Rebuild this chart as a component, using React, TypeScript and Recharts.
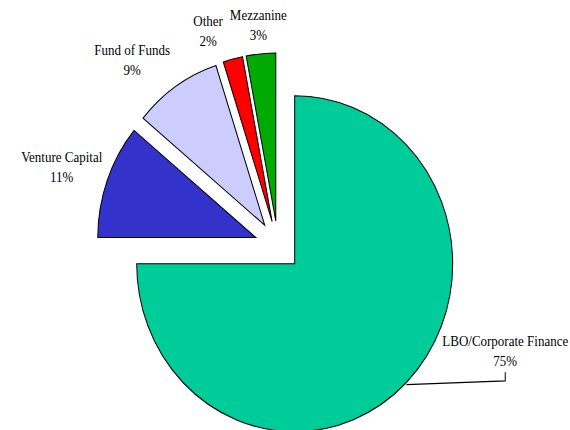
import React from 'react';
import { PieChart, Pie, Cell } from 'recharts';

const SECTORS = ['LBO/Corporate Finance', 'Venture Capital', 'Fund of Funds', 'Other', 'Mezzanine'];
const SHARES = [75, 11, 9, 2, 3];
const COLORS = [
  '#00CC99', // LBO
  '#3333CC', // Venture
  '#CCCCFF', // Fund of Funds
  '#FF0000', // Other
  '#00AA00', // Mezzanine
];

// where each label sits: distance past the rim, angle nudge in degrees
const LABEL_POS = [
  { r: 68, nudge: 23.7, leader: true },
  { r: 47, nudge: 1, leader: false },
  { r: 46, nudge: 6.3, leader: false },
  { r: 32, nudge: 5.3, leader: false },
  { r: 27, nudge: 0, leader: false },
];

const CX = 278;
const CY = 246;
const RADIUS = 158;
const EXPLODE = 23.6;
const RAD = Math.PI / 180;
const FONT = '"Liberation Serif", "Times New Roman", serif';

const data = SECTORS.map((name, i) => ({ name, value: SHARES[i] }));
const total = SHARES.reduce((a, b) => a + b, 0);
const midAngles = SHARES.map((v, i) => {
  const before = SHARES.slice(0, i).reduce((a, b) => a + b, 0);
  return 90 - (360 * (before + v / 2)) / total;
});

const makeLabel = (slice: number) => (props: any) => {
  if (props.index !== slice) return null;
  const { cx, cy, midAngle, outerRadius } = props;
  const pos = LABEL_POS[slice];
  const a = (midAngle + pos.nudge) * RAD;
  const r = outerRadius + pos.r;
  const x = cx + r * Math.cos(a);
  const y = cy - r * Math.sin(a);
  const ax = cx + outerRadius * Math.cos(midAngle * RAD);
  const ay = cy - outerRadius * Math.sin(midAngle * RAD);

  return (
    <g>
      {pos.leader && (
        <path d={`M${ax},${ay + 2}L${x},${ay - 1.5}V${y + 20}`} stroke="#000" strokeWidth={1} fill="none" />
      )}
      <text textAnchor="middle" fontSize={13} fill="#000" style={{ fontFamily: FONT }}>
        <tspan x={x} y={y - 9.4} dominantBaseline="central">{SECTORS[slice]}</tspan>
        <tspan x={x} y={y + 9.4} dominantBaseline="central">{`${SHARES[slice]}%`}</tspan>
      </text>
    </g>
  );
};

export default function App() {
  return (
    <div
      style={{
        position: 'absolute',
        left: 0,
        top: 0,
        width: 570,
        height: 430,
        background: '#fff',
        fontFamily: FONT,
        transform: 'scaleY(1.063)',
        transformOrigin: `${CX}px ${CY}px`,
      }}
    >
      <PieChart width={570} height={430} margin={{ top: 0, right: 0, bottom: 0, left: 0 }}>
        {SHARES.map((_, slice) => {
          const m = midAngles[slice] * RAD;
          return (
            <Pie
              key={slice}
              data={data}
              dataKey="value"
              nameKey="name"
              cx={CX + EXPLODE * Math.cos(m)}
              cy={CY - EXPLODE * Math.sin(m)}
              innerRadius={0}
              outerRadius={RADIUS}
              startAngle={90}
              endAngle={-270}
              paddingAngle={0}
              isAnimationActive={false}
              labelLine={false}
              label={makeLabel(slice)}
            >
              {data.map((_, i) => (
                <Cell
                  key={`cell-${i}`}
                  fill={i === slice ? COLORS[i] : 'none'}
                  stroke={i === slice ? '#000' : 'none'}
                  strokeWidth={1}
                />
              ))}
            </Pie>
          );
        })}
      </PieChart>
    </div>
  );
}
